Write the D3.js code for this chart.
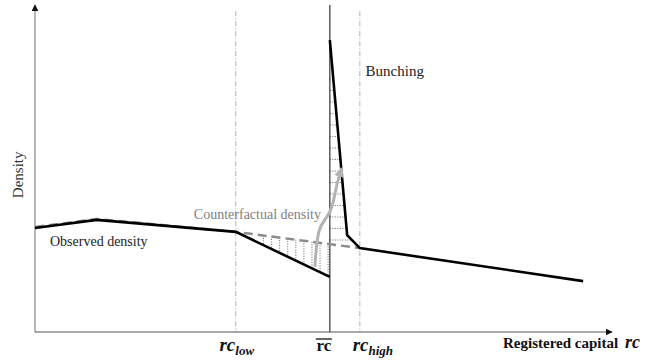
<!DOCTYPE html>
<html>
<head>
<meta charset="utf-8">
<script src="https://cdn.jsdelivr.net/npm/d3@7"></script>
<style>
  body { margin: 0; background: #fff; }
</style>
</head>
<body>
<div id="graph"></div>
<script>
// chart values (abstract units, 0-100 on both axes)
const rcLow = 34.8;
const rcBar = 51.1;
const rcHigh = 56.3;

const observedX = [0, 10.7, 34.8, 51.1];
const observedY = [32.1, 34.6, 30.9, 17.0];

const bunchingX = [51.1, 54.1, 56.3, 95.0];
const bunchingY = [90.1, 29.9, 25.9, 15.7];

const counterX = [0, 10.7, 34.8, 56.3];
const counterY = [32.4, 34.9, 30.9, 25.9];

// shifting arrow (gray curve)
const arrowX = [48.5, 49.0, 50.6, 51.6, 52.3, 53.2];
const arrowY = [20.1, 32.4, 35.2, 38.6, 46.0, 50.6];

const width = 664;
const height = 364;
const serif = "'Liberation Serif', 'Times New Roman', serif";

const x = d3.scaleLinear([0, 100], [35, 612]);
const y = d3.scaleLinear([0, 100], [332, 8]);

const svg = d3
	.select("#graph")
	.append("svg")
	.attr("width", width)
	.attr("height", height)
	.attr("viewBox", [0, 0, width, height])
	.attr("font-family", serif);

const defs = svg.append("defs");
function marker(id, color, size) {
	defs
		.append("marker")
		.attr("id", id)
		.attr("viewBox", "0 0 10 10")
		.attr("refX", 9)
		.attr("refY", 5)
		.attr("markerUnits", "userSpaceOnUse")
		.attr("markerWidth", size)
		.attr("markerHeight", size)
		.attr("orient", "auto")
		.append("path")
		.attr("d", "M0,0L10,5L0,10Z")
		.attr("fill", color);
}
marker("arrBlack", "#111", 7);
marker("arrGray", "#b3b3b3", 10);

const line = (X, Y) => d3.line().x((i) => x(X[i])).y((i) => y(Y[i]))(d3.range(X.length));

// reference lines at rc_low and rc_high
svg
	.append("g")
	.attr("stroke", "#b0b0b0")
	.attr("stroke-width", 1)
	.attr("stroke-dasharray", "5,2,1,2")
	.selectAll("line")
	.data([rcLow, rcHigh])
	.join("line")
	.attr("x1", (d) => x(d))
	.attr("x2", (d) => x(d))
	.attr("y1", y(99))
	.attr("y2", y(0));

function interp(X, Y, xv) {
	for (let i = 0; i < X.length - 1; i++) {
		if (xv >= X[i] && xv <= X[i + 1])
			return Y[i] + ((Y[i + 1] - Y[i]) * (xv - X[i])) / (X[i + 1] - X[i]);
	}
	return Y[Y.length - 1];
}
function interpYtoX(X, Y, yv) {
	for (let i = 0; i < X.length - 1; i++) {
		const lo = Math.min(Y[i], Y[i + 1]);
		const hi = Math.max(Y[i], Y[i + 1]);
		if (yv >= lo && yv <= hi)
			return X[i] + ((X[i + 1] - X[i]) * (yv - Y[i])) / (Y[i + 1] - Y[i]);
	}
	return X[0];
}

// hatch: missing mass (vertical dotted lines)
const hatchV = d3.range(39.6, rcBar, 1.4);
svg
	.append("g")
	.attr("stroke", "#666")
	.attr("stroke-width", 1)
	.attr("stroke-dasharray", "1,1.5")
	.selectAll("line")
	.data(hatchV)
	.join("line")
	.attr("x1", (d) => x(d))
	.attr("x2", (d) => x(d))
	.attr("y1", (d) => y(interp(counterX, counterY, d)))
	.attr("y2", (d) => y(interp(observedX, observedY, d)));

// hatch: bunching mass (horizontal dotted lines)
const hatchH = d3.range(28.4, 80, 3.55);
svg
	.append("g")
	.attr("stroke", "#666")
	.attr("stroke-width", 1)
	.attr("stroke-dasharray", "1,1.5")
	.selectAll("line")
	.data(hatchH)
	.join("line")
	.attr("x1", x(rcBar))
	.attr("x2", (d) => x(interpYtoX(bunchingX, bunchingY, d)))
	.attr("y1", (d) => y(d))
	.attr("y2", (d) => y(d));

// axes
svg
	.append("line")
	.attr("x1", x(0))
	.attr("x2", x(0))
	.attr("y1", y(0))
	.attr("y2", 5)
	.attr("stroke", "#a0a0a0")
	.attr("stroke-width", 1.5)
	.attr("marker-end", "url(#arrBlack)");

svg
	.append("line")
	.attr("x1", x(0))
	.attr("x2", x(100))
	.attr("y1", y(0))
	.attr("y2", y(0))
	.attr("stroke", "#555")
	.attr("stroke-width", 1.2)
	.attr("marker-end", "url(#arrBlack)");

// threshold rc bar
svg
	.append("line")
	.attr("x1", x(rcBar))
	.attr("x2", x(rcBar))
	.attr("y1", 5)
	.attr("y2", y(0))
	.attr("stroke", "#333")
	.attr("stroke-width", 1.2);

// counterfactual density
svg
	.append("path")
	.attr("d", line(counterX, counterY))
	.attr("fill", "none")
	.attr("stroke", "#8c8c8c")
	.attr("stroke-width", 2.5)
	.attr("stroke-dasharray", "9,5");

// observed density
svg
	.append("path")
	.attr("d", line(observedX, observedY))
	.attr("fill", "none")
	.attr("stroke", "#000")
	.attr("stroke-width", 2.6);

svg
	.append("path")
	.attr("d", line(bunchingX, bunchingY))
	.attr("fill", "none")
	.attr("stroke", "#000")
	.attr("stroke-width", 2.6);

// shifting arrow
svg
	.append("path")
	.attr(
		"d",
		d3.line().x((i) => x(arrowX[i])).y((i) => y(arrowY[i])).curve(d3.curveBasis)(d3.range(arrowX.length))
	)
	.attr("fill", "none")
	.attr("stroke", "#b3b3b3")
	.attr("stroke-width", 3)
	.attr("marker-end", "url(#arrGray)");

// labels
svg
	.append("text")
	.attr("transform", `translate(23,${y(48.5)}) rotate(-90)`)
	.attr("text-anchor", "middle")
	.attr("font-size", 15)
	.attr("fill", "#333")
	.text("Density");

svg
	.append("text")
	.attr("x", x(57.3))
	.attr("y", 76)
	.attr("font-size", 15)
	.attr("fill", "#222")
	.text("Bunching");

svg
	.append("text")
	.attr("x", 321)
	.attr("y", 219)
	.attr("text-anchor", "end")
	.attr("font-size", 14)
	.attr("fill", "#808080")
	.text("Counterfactual density");

svg
	.append("text")
	.attr("x", 50)
	.attr("y", 246)
	.attr("font-size", 14)
	.attr("fill", "#222")
	.text("Observed density");

// x tick labels
function rcLabel(cx, sub) {
	const t = svg
		.append("text")
		.attr("x", cx)
		.attr("y", 351)
		.attr("text-anchor", "middle")
		.attr("font-weight", "bold")
		.attr("font-style", "italic")
		.attr("font-size", 19)
		.attr("fill", "#111");
	t.append("tspan").text("rc");
	t.append("tspan").attr("font-size", 13).attr("dy", 4).text(sub);
}
rcLabel(x(rcLow) + 1, "low");
rcLabel(x(rcHigh) + 13, "high");

svg
	.append("text")
	.attr("x", x(rcBar) - 6)
	.attr("y", 351)
	.attr("text-anchor", "middle")
	.attr("font-weight", "bold")
	.attr("font-size", 17)
	.attr("fill", "#111")
	.text("rc");
svg
	.append("line")
	.attr("x1", x(rcBar) - 14)
	.attr("x2", x(rcBar) + 2)
	.attr("y1", 339)
	.attr("y2", 339)
	.attr("stroke", "#111")
	.attr("stroke-width", 1.3);

const xl = svg
	.append("text")
	.attr("x", 503)
	.attr("y", 348)
	.attr("font-weight", "bold")
	.attr("font-size", 15)
	.attr("fill", "#111");
xl.append("tspan").text("Registered capital ");
xl.append("tspan").attr("font-style", "italic").attr("font-size", 18).attr("dx", 3).text("rc");
</script>
</body>
</html>
